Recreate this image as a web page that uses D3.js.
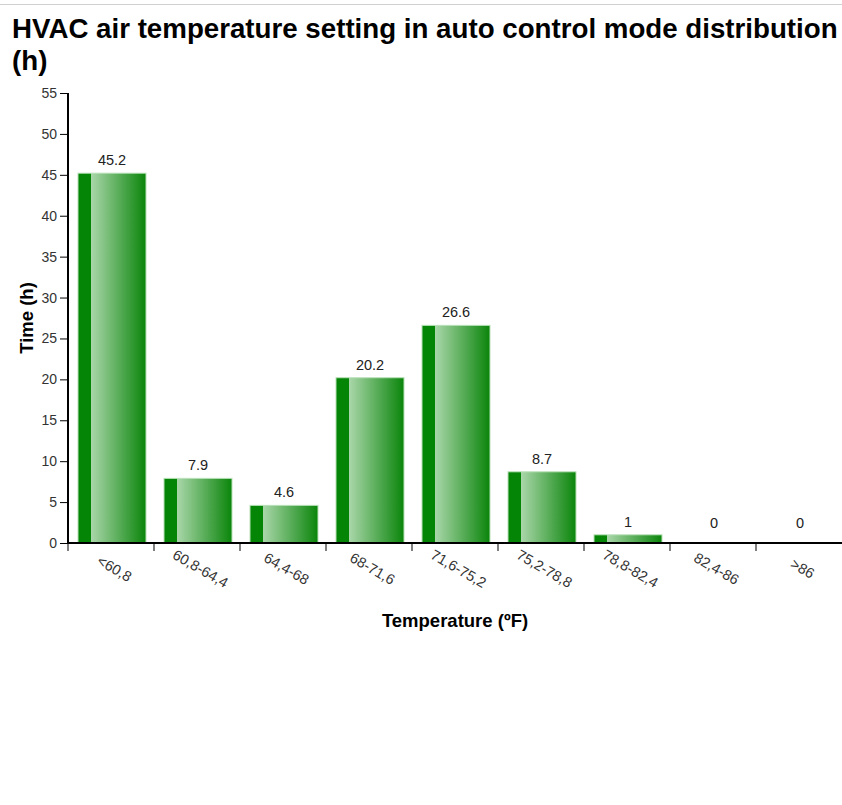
<!DOCTYPE html>
<html>
<head>
<meta charset="utf-8">
<script src="https://cdn.jsdelivr.net/npm/d3@7"></script>
<style>
  body { margin: 0; background: #fff; font-family: "Liberation Sans", Arial, sans-serif; }
  #main { border-top: 1px solid #d0d0d0; margin-top: 4px; }
  h1 { margin: 8px 0 0 12px; font-size: 27.7px; line-height: 32px; font-weight: bold; color: #000; }
</style>
</head>
<body>
<div id="main">
  <h1>HVAC air temperature setting in auto control mode distribution (h)</h1>
  <svg width="842" height="640"></svg>
</div>
<script>
// Chart data
var categories = ["<60,8", "60,8-64,4", "64,4-68", "68-71,6", "71,6-75,2", "75,2-78,8", "78,8-82,4", "82,4-86", ">86"];
var hours = [45.2, 7.9, 4.6, 20.2, 26.6, 8.7, 1, 0, 0];
var yTicks = [0, 5, 10, 15, 20, 25, 30, 35, 40, 45, 50, 55];

var svg = d3.select("#main").select("svg");
var margin = {top: 16, left: 68, bottom: 97, right: 0};
var width = +svg.attr("width") - margin.left - margin.right;
var height = 450;

var data = categories.map(function(c, i) { return {cat: c, value: hours[i]}; });

// Bar gradient: dark strip on the left, then light to dark
var defs = svg.append("defs");
var grad = defs.append("linearGradient").attr("id", "barGrad")
    .attr("x1", "0%").attr("x2", "100%").attr("y1", "0%").attr("y2", "0%");
grad.append("stop").attr("offset", "0%").attr("stop-color", "#058505");
grad.append("stop").attr("offset", "19%").attr("stop-color", "#058505");
grad.append("stop").attr("offset", "19.5%").attr("stop-color", "#a9d6a9");
grad.append("stop").attr("offset", "100%").attr("stop-color", "#0a850a");

var g = svg.append("g").attr("transform", "translate(" + margin.left + "," + margin.top + ")");

var xScale = d3.scaleBand()
    .domain(categories)
    .range([1, 1 + 86 * categories.length])
    .paddingInner(18 / 86)
    .paddingOuter(9 / 86);

var yScale = d3.scaleLinear()
    .domain([0, 55])
    .range([height, 0]);

// Bars
g.selectAll(".bar").data(data).enter().append("rect")
    .attr("class", "bar")
    .attr("x", function(d) { return xScale(d.cat); })
    .attr("y", function(d) { return yScale(d.value); })
    .attr("width", xScale.bandwidth())
    .attr("height", function(d) { return height - yScale(d.value); })
    .attr("fill", "url(#barGrad)")
    .attr("stroke", "#b8e0b8")
    .attr("stroke-width", 1);

// Value labels (zero bars get their label lifted a bit)
g.selectAll(".label").data(data).enter().append("text")
    .attr("class", "label")
    .attr("x", function(d) { return xScale(d.cat) + xScale.bandwidth() / 2; })
    .attr("y", function(d) { return Math.min(yScale(d.value) - 8, height - 15); })
    .attr("text-anchor", "middle")
    .attr("font-size", 14.5)
    .attr("fill", "#222")
    .text(function(d) { return d.value; });

// Y axis
var yAxis = d3.axisLeft(yScale).tickValues(yTicks).tickSize(8).tickPadding(3);
var yG = g.append("g").attr("class", "y axis").call(yAxis);

// X axis with ticks at band edges
var edges = categories.map(function(c, i) { return i * xScale.step(); });
var xG = g.append("g").attr("class", "x axis").attr("transform", "translate(0," + height + ")");
xG.append("line").attr("x1", 0).attr("x2", width).attr("stroke", "#000").attr("stroke-width", 2);
xG.selectAll(".tick").data(edges).enter().append("line")
    .attr("x1", function(d) { return d; }).attr("x2", function(d) { return d; })
    .attr("y1", 0).attr("y2", 8)
    .attr("stroke", "#000");
xG.selectAll(".xlabel").data(categories).enter().append("text")
    .attr("class", "xlabel")
    .attr("transform", function(d) {
        return "translate(" + (xScale(d) + xScale.bandwidth() / 2) + ",30) rotate(30)";
    })
    .attr("text-anchor", "middle")
    .attr("font-size", 14.5)
    .attr("fill", "#333")
    .text(function(d) { return d; });

yG.select(".domain").attr("stroke-width", 2).attr("d", "M0," + height + "V0");
yG.selectAll("text").attr("font-size", 14).attr("fill", "#333")
    .attr("font-family", "Liberation Sans, Arial, sans-serif");

// Axis titles
g.append("text")
    .attr("x", width / 2)
    .attr("y", height + 84)
    .attr("text-anchor", "middle")
    .attr("font-size", 18.5)
    .attr("font-weight", "bold")
    .text("Temperature (ºF)");

g.append("text")
    .attr("transform", "translate(-35," + height / 2 + ") rotate(-90)")
    .attr("text-anchor", "middle")
    .attr("font-size", 18.5)
    .attr("font-weight", "bold")
    .text("Time (h)");
</script>
</body>
</html>
